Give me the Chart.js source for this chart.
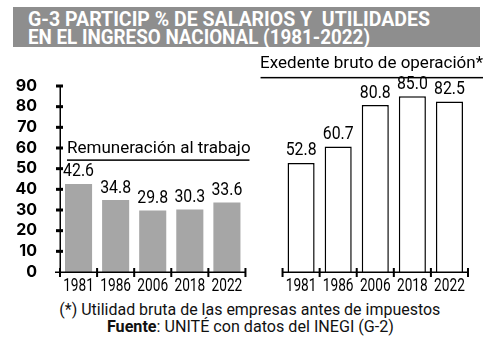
<!DOCTYPE html>
<html>
<head>
<meta charset="utf-8">
<script src="https://cdn.jsdelivr.net/npm/chart.js@4"></script>
<style>
  body { margin: 0; width: 500px; height: 346px; background: #fff; position: relative; overflow: hidden; font-family: Roboto, sans-serif; }
  #titulo { position: absolute; left: 13px; top: 7px; width: 467px; height: 40px; background: #8e8e8e; }
  #titulo .l { position: absolute; left: 15px; color: #fff; font: 700 20px Roboto, sans-serif; white-space: nowrap; transform-origin: left center; line-height: 20px; }
  #caja { position: absolute; left: 0; top: 48px; width: 500px; height: 250px; }
  .pie { position: absolute; left: 0; width: 500px; text-align: center; font-size: 16px; color: #111; white-space: nowrap; line-height: 18px; }
  .pie span { display: inline-block; transform-origin: center center; }
</style>
</head>
<body>
<div id="titulo">
  <div class="l" id="t1" style="top:2px">G-3 PARTICIP % DE SALARIOS Y&nbsp; UTILIDADES</div>
  <div class="l" id="t2" style="top:20px">EN EL INGRESO NACIONAL (1981-2022)</div>
</div>
<div id="caja"><canvas id="grafica"></canvas></div>
<div class="pie" style="top:301px"><span id="p1">(*) Utilidad bruta de las empresas antes de impuestos</span></div>
<div class="pie" style="top:318px"><span id="p2"><b>Fuente</b>: UNITÉ con datos del INEGI (G-2)</span></div>
<script>
const anios = ['1981', '1986', '2006', '2018', '2022'];
const remuneracion = [42.6, 34.8, 29.8, 30.3, 33.6];
const excedente = [52.8, 60.7, 80.8, 85.0, 82.5];
const etiquetaIzq = 'Remuneración al trabajo';
const etiquetaDer = 'Exedente bruto de operación*';

// ajustar ancho de los textos html
function ajustar(id, ancho) {
  const el = document.getElementById(id);
  const w = el.getBoundingClientRect().width;
  el.style.transform = 'scaleX(' + (ancho / w) + ')';
}
ajustar('t1', 402);
ajustar('t2', 342);
ajustar('p1', 381);
ajustar('p2', 287);

const etiquetas = [...anios, '', ...anios];
const valores = [...remuneracion, null, ...excedente];
const fondos = [...remuneracion.map(() => '#a6a6a6'), null, ...excedente.map(() => '#ffffff')];
const bordes = [...remuneracion.map(() => 0), 0, ...excedente.map(() => 1.5)];

// texto angosto: no hay fuente condensada, se comprime a mano
function textoAngosto(ctx, texto, x, y, escala) {
  ctx.save();
  ctx.translate(x, y);
  ctx.scale(escala, 1);
  ctx.fillText(texto, 0, 0);
  ctx.restore();
}

const ejes = {
  id: 'ejes',
  afterDraw(chart) {
    const ctx = chart.ctx;
    const x = chart.scales.x, y = chart.scales.y;
    const a = chart.chartArea;
    const paso = (a.right - a.left) / etiquetas.length;
    const base = y.getPixelForValue(0);
    ctx.save();
    ctx.fillStyle = '#000';
    // eje y
    ctx.fillRect(a.left - 0.5, y.getPixelForValue(90) - 1, 1.5, base - y.getPixelForValue(90) + 6);
    for (let v = 10; v <= 90; v += 10) {
      ctx.fillRect(a.left - 4, y.getPixelForValue(v) - 1.5, 7, 3);
    }
    // eje x en dos tramos
    const corte = anios.length;
    ctx.fillRect(a.left - 5, base - 0.5, paso * corte + 5, 1.5);
    ctx.fillRect(a.left + paso * (corte + 1), base - 0.5, paso * corte, 1.5);
    for (let i = 0; i <= etiquetas.length; i++) {
      ctx.fillRect(a.left + paso * i - 1, base - 4, 2, 9);
    }
    // años bajo el eje
    ctx.font = '18px Roboto, sans-serif';
    ctx.textAlign = 'center';
    ctx.textBaseline = 'alphabetic';
    etiquetas.forEach((t, i) => {
      if (t) textoAngosto(ctx, t, x.getPixelForTick(i), base + 19, 0.76);
    });
    // valores sobre las barras
    ctx.textBaseline = 'bottom';
    chart.getDatasetMeta(0).data.forEach((barra, i) => {
      if (valores[i] == null) return;
      textoAngosto(ctx, valores[i].toFixed(1), barra.x, barra.y - 3, 0.88);
    });
    // rótulos de grupo
    ctx.font = '17px Roboto, sans-serif';
    ctx.textBaseline = 'alphabetic';
    ctx.textAlign = 'left';
    const yIzq = y.getPixelForValue(54.5);
    ctx.fillText(etiquetaIzq, a.left + 7, yIzq - 6);
    ctx.fillRect(a.left + 7, yIzq, paso * corte - 3, 1.5);
    ctx.textAlign = 'right';
    const yDer = y.getPixelForValue(94.4);
    ctx.fillText(etiquetaDer, a.right + 15, yDer - 9);
    ctx.fillRect(a.left + paso * (corte + 1) - 22, yDer, paso * corte + 37, 1.5);
    ctx.restore();
  }
};

new Chart(document.getElementById('grafica'), {
  type: 'bar',
  data: {
    labels: etiquetas,
    datasets: [{
      data: valores,
      backgroundColor: fondos,
      borderColor: '#000',
      borderWidth: bordes,
      borderSkipped: 'bottom',
      categoryPercentage: 1,
      barPercentage: 0.73
    }]
  },
  options: {
    responsive: true,
    maintainAspectRatio: false,
    animation: false,
    layout: { padding: { top: 38, right: 32, left: 0, bottom: 0 } },
    plugins: { legend: { display: false }, tooltip: { enabled: false } },
    scales: {
      x: {
        grid: { display: false },
        border: { display: false },
        ticks: { display: false },
        afterFit(s) { s.height = 26; }
      },
      y: {
        min: 0,
        max: 90,
        grid: { display: false },
        border: { display: false },
        ticks: { stepSize: 10, autoSkip: false, color: '#000', font: { family: 'Inter, sans-serif', size: 16, weight: 'bold' }, padding: 15 },
        afterFit(s) { s.width = 60; }
      }
    }
  },
  plugins: [ejes]
});
</script>
</body>
</html>
